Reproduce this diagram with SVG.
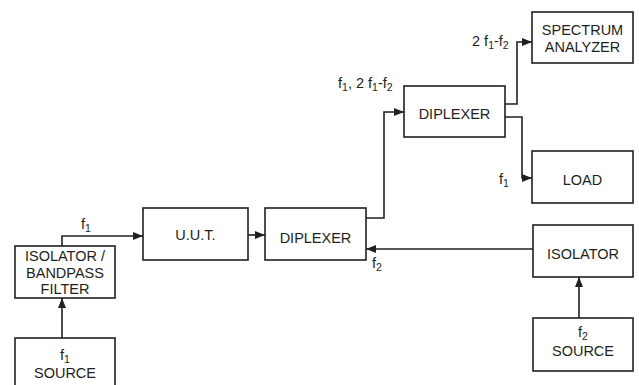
<svg xmlns="http://www.w3.org/2000/svg" width="639" height="385" viewBox="0 0 639 385">
<defs>
<style>
.box{fill:#fff;stroke:#231f20;stroke-width:1.6}
.t{font-family:"Liberation Sans",Arial,sans-serif;font-size:14.5px;fill:#231f20;text-anchor:middle}
.l{font-family:"Liberation Sans",Arial,sans-serif;font-size:14.5px;fill:#231f20}
.s{font-size:10.5px}
.c{fill:none;stroke:#231f20;stroke-width:1.6}
</style>
<marker id="ah" viewBox="0 0 10 8" refX="10" refY="4" markerWidth="10" markerHeight="8" markerUnits="userSpaceOnUse" orient="auto">
<path d="M0,0 L10,4 L0,8 Z" fill="#231f20"/>
</marker>
</defs>
<rect width="639" height="385" fill="#fff"/>
<g id="connectors">
<path class="c" d="M62,338 V298" marker-end="url(#ah)"/>
<path class="c" d="M62,246 V236 H143" marker-end="url(#ah)"/>
<path class="c" d="M248,235 H265" marker-end="url(#ah)"/>
<path class="c" d="M366,218 H384 V112 H404" marker-end="url(#ah)"/>
<path class="c" d="M505,104 H517 V42 H532" marker-end="url(#ah)"/>
<path class="c" d="M505,117 H522 V178 H532" marker-end="url(#ah)"/>
<path class="c" d="M533,249 H366" marker-end="url(#ah)"/>
<path class="c" d="M579,318 V277" marker-end="url(#ah)"/>
</g>
<g id="labels">
<text class="l" x="81" y="229">f<tspan class="s" dy="3">1</tspan></text>
<text class="l" x="372" y="268">f<tspan class="s" dy="3">2</tspan></text>
<text class="l" x="338" y="88">f<tspan class="s" dy="3">1</tspan><tspan dy="-3">, 2 f</tspan><tspan class="s" dy="3">1</tspan><tspan dy="-3">-f</tspan><tspan class="s" dy="3">2</tspan></text>
<text class="l" x="472" y="46">2 f<tspan class="s" dy="3">1</tspan><tspan dy="-3">-f</tspan><tspan class="s" dy="3">2</tspan></text>
<text class="l" x="499" y="184">f<tspan class="s" dy="3">1</tspan></text>
</g>
<g id="f1-source">
<rect class="box" x="15" y="338" width="100" height="60"/>
<text class="t" x="65" y="360">f<tspan class="s" dy="3">1</tspan></text>
<text class="t" x="65" y="378">SOURCE</text>
</g>
<g id="isolator-bandpass">
<rect class="box" x="15" y="246" width="100" height="52"/>
<text class="t" x="65" y="261">ISOLATOR /</text>
<text class="t" x="65" y="277.5">BANDPASS</text>
<text class="t" x="65" y="294">FILTER</text>
</g>
<g id="uut">
<rect class="box" x="143" y="208" width="105" height="52"/>
<text class="t" x="195.5" y="240">U.U.T.</text>
</g>
<g id="diplexer1">
<rect class="box" x="265" y="208" width="101" height="52"/>
<text class="t" x="315.5" y="243">DIPLEXER</text>
</g>
<g id="diplexer2">
<rect class="box" x="404" y="86" width="101" height="51"/>
<text class="t" x="454.5" y="119">DIPLEXER</text>
</g>
<g id="spectrum-analyzer">
<rect class="box" x="532" y="12" width="101" height="51"/>
<text class="t" x="582.5" y="35">SPECTRUM</text>
<text class="t" x="582.5" y="52">ANALYZER</text>
</g>
<g id="load">
<rect class="box" x="532" y="151" width="101" height="52"/>
<text class="t" x="582.5" y="185">LOAD</text>
</g>
<g id="isolator">
<rect class="box" x="533" y="225" width="100" height="52"/>
<text class="t" x="583" y="259">ISOLATOR</text>
</g>
<g id="f2-source">
<rect class="box" x="533" y="318" width="100" height="53"/>
<text class="t" x="583" y="337">f<tspan class="s" dy="3">2</tspan></text>
<text class="t" x="583" y="356">SOURCE</text>
</g>
</svg>
